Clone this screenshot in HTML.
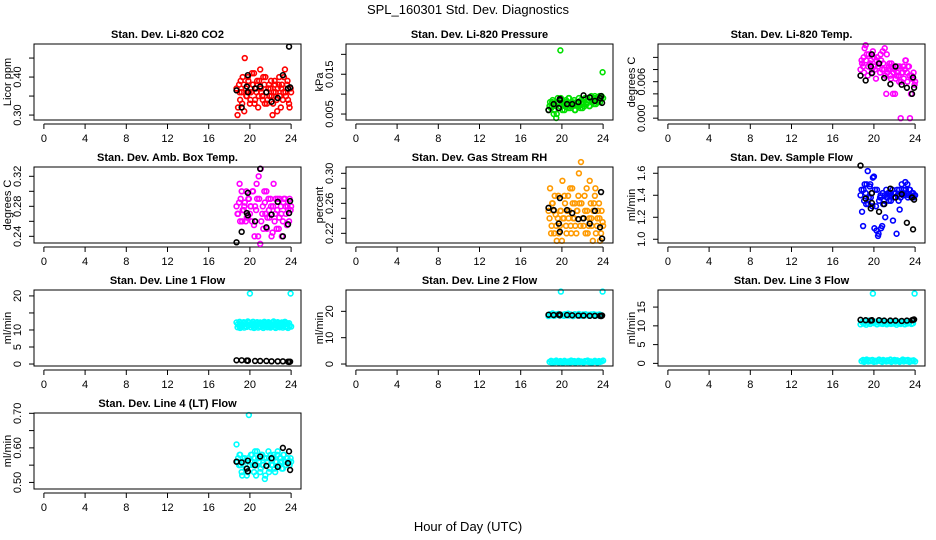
<!DOCTYPE html>
<html><head><meta charset="utf-8">
<style>
html,body{margin:0;padding:0;background:#fff;}
svg{display:block;font-family:"Liberation Sans",Arial,sans-serif;}
</style></head>
<body>
<svg id="chart" width="936" height="540" viewBox="0 0 936 540">
<text x="468" y="14" text-anchor="middle" font-size="13">SPL_160301  Std. Dev. Diagnostics</text>
<text x="468" y="531" text-anchor="middle" font-size="13">Hour of Day (UTC)</text>
</svg>
<script>
const hoursA=[18.7,18.85,19.0,19.1,19.25,19.4,19.5,19.65,19.8,19.9,20.05,20.2,20.3,20.45,20.6,20.7,20.85,21.0,21.1,21.25,21.4,21.5,21.65,21.8,21.9,22.05,22.2,22.3,22.45,22.6,22.7,22.85,23.0,23.1,23.25,23.4,23.5,23.65,23.8,23.95];
const hoursB=[18.8,18.95,19.05,19.2,19.3,19.45,19.6,19.7,19.85,20.0,20.1,20.25,20.4,20.5,20.65,20.8,20.9,21.05,21.2,21.3,21.45,21.6,21.7,21.85,22.0,22.1,22.25,22.4,22.5,22.65,22.8,22.9,23.05,23.2,23.3,23.45,23.6,23.7,23.85,24.0];
const hoursBlack=[18.7,19.2,19.7,19.8,20.5,21.0,21.6,22.1,22.7,23.2,23.7,23.8,23.9,19.8];
const xTicks=[0,4,8,12,16,20,24];

const co2A=[.37,.32,.36,.39,.33,.38,.45,.35,.40,.36,.34,.41,.38,.33,.37,.39,.35,.42,.36,.34,.38,.40,.33,.37,.35,.39,.30,.36,.38,.34,.37,.40,.32,.38,.36,.42,.35,.39,.33,.37];
const co2B=[.30,.38,.34,.36,.40,.31,.37,.35,.39,.33,.36,.38,.41,.34,.36,.32,.39,.37,.35,.40,.33,.36,.34,.38,.37,.35,.33,.39,.36,.31,.38,.35,.37,.34,.40,.36,.38,.34,.32,.36];
const co2K=[.365,.32,.375,.36,.37,.375,.36,.335,.345,.405,.37,.48,.373,.405];

const presA=[.006,.008,.007,.0085,.006,.007,.005,.008,.007,.009,.006,.0075,.008,.007,.0065,.009,.007,.008,.0075,.006,.008,.007,.009,.0065,.008,.0075,.007,.009,.008,.0085,.007,.0095,.008,.0075,.009,.0085,.008,.0095,.009,.0155];
const presB=[.007,.0065,.008,.005,.0075,.004,.009,.0065,.021,.0075,.008,.006,.0085,.0075,.009,.0065,.008,.007,.0085,.006,.0075,.008,.007,.0085,.0065,.008,.009,.0075,.0085,.007,.009,.008,.0085,.0095,.0075,.009,.0085,.008,.0095,.009];
const presK=[.006,.0075,.0065,.0085,.0075,.0075,.008,.0097,.0092,.0083,.009,.0095,.0078,.0088];

const tempA=[.008,.009,.010,.0115,.0095,.007,.0105,.009,.008,.011,.0085,.0065,.010,.009,.0075,.0095,.011,.008,.007,.0105,.008,.009,.0065,.0085,.0075,.004,.007,.0085,.006,0,.0075,.0085,.008,.0095,.006,.0085,0,.007,.0065,.0055];
const tempB=[.0095,.0085,.0075,.012,.0105,.0085,.009,.0095,.0075,.010,.008,.0095,.0085,.009,.0105,.008,.009,.0115,.004,.0075,.0085,.007,.009,.004,.008,.0065,.0075,.007,.0085,.006,.0075,.0065,.0095,.0075,.0085,.007,.004,.0065,.0075,.006];
const tempK=[.007,.0062,.0085,.0105,.009,.0066,.0056,.0085,.0055,.005,.004,.0067,.005,.0074];

const ambA=[.28,.27,.31,.29,.26,.275,.285,.30,.265,.29,.28,.26,.30,.24,.275,.29,.32,.23,.26,.28,.30,.27,.25,.29,.265,.28,.245,.31,.27,.25,.29,.265,.28,.24,.285,.29,.27,.28,.26,.275];
const ambB=[.27,.285,.26,.30,.275,.28,.26,.265,.29,.27,.28,.30,.255,.28,.31,.24,.29,.33,.27,.25,.285,.30,.265,.275,.29,.24,.28,.26,.29,.275,.25,.29,.27,.26,.29,.28,.255,.275,.29,.28];
const ambK=[.232,.246,.271,.268,.26,.33,.252,.269,.286,.24,.256,.271,.287,.298];

const rhA=[.25,.28,.23,.26,.22,.245,.21,.27,.23,.25,.29,.24,.26,.22,.27,.25,.23,.28,.24,.26,.22,.25,.30,.23,.26,.24,.27,.22,.25,.23,.29,.24,.21,.26,.28,.23,.25,.24,.22,.235];
const rhB=[.24,.22,.26,.25,.27,.23,.24,.22,.25,.21,.24,.27,.23,.25,.24,.28,.22,.26,.24,.23,.25,.27,.26,.315,.24,.23,.25,.28,.22,.24,.26,.23,.25,.27,.22,.24,.26,.21,.25,.23];
const rhK=[.254,.251,.233,.267,.251,.247,.239,.24,.233,.25,.228,.275,.213,.222];

const flowA=[1.40,1.25,1.45,1.50,1.32,1.62,1.38,1.50,1.42,1.56,1.10,1.30,1.45,1.05,1.38,1.10,1.42,1.35,1.20,1.38,1.42,1.40,1.35,1.45,1.38,1.42,1.05,1.40,1.45,1.38,1.50,1.42,1.40,1.45,1.50,1.40,1.45,1.38,1.42,1.40];
const flowB=[1.45,1.12,1.35,1.42,1.50,1.32,1.48,1.38,1.30,1.57,1.45,1.08,1.03,1.35,1.40,1.12,1.32,1.40,1.45,1.38,1.35,1.42,1.40,1.17,1.38,1.42,1.45,1.35,1.27,1.42,1.40,1.45,1.52,1.42,1.38,1.45,1.40,1.42,1.38,1.40];
const flowK=[1.67,1.37,1.28,1.42,1.25,1.32,1.46,1.38,1.41,1.15,1.38,1.09,1.36,1.33];

const l1A=[12.2,11.8,12.4,12.0,11.6,12.3,12.1,11.9,12.5,12.2,11.7,12.0,12.4,11.8,12.1,12.3,11.9,12.2,12.0,11.7,12.4,12.1,11.9,12.3,12.0,11.8,12.2,12.5,11.9,12.1,12.3,11.8,12.0,12.2,11.9,12.4,12.1,11.8,12.0,20.7];
const l1B=[10.8,11.2,10.6,11.0,11.4,10.7,11.1,10.9,11.3,20.7,10.8,11.2,10.6,11.0,11.3,10.7,11.1,10.9,11.2,10.6,11.0,11.4,10.8,11.1,10.7,11.0,11.3,10.9,10.6,11.2,11.0,10.8,11.1,10.7,11.3,10.9,11.0,10.6,11.2,11.0];
const l1K=[1.1,1.1,1.0,1.0,0.9,0.9,0.9,0.8,0.8,0.8,0.7,0.6,0.7,1.0];

const l2A=[18.2,18.9,18.5,19.2,18.3,18.8,18.6,19.0,18.4,27.5,18.7,18.3,18.9,18.5,19.1,18.4,18.8,18.6,18.2,18.9,18.5,18.7,19.0,18.3,18.6,18.8,18.4,18.9,18.5,18.7,18.3,18.8,18.6,18.9,18.4,18.7,18.5,18.8,18.6,27.5];
const l2B=[0.8,1.2,0.5,1.0,0.7,1.3,0.9,0.6,1.1,0.8,0.5,1.2,0.9,0.7,1.0,0.6,1.3,0.8,1.1,0.5,0.9,1.2,0.7,1.0,0.8,0.6,1.1,0.9,1.3,0.7,1.0,0.5,0.8,1.2,0.9,0.6,1.1,0.8,1.0,1.3];
const l2K=[18.7,18.6,18.7,18.5,18.6,18.5,18.4,18.4,18.3,18.3,18.3,18.2,18.4,18.8];

const l3A=[10.4,11.0,10.6,11.2,10.3,10.8,11.4,10.5,10.9,18.6,10.7,11.1,10.4,10.9,10.6,11.3,10.5,10.8,11.0,10.4,10.7,11.2,10.5,10.9,10.6,11.0,10.3,10.8,11.1,10.5,10.7,10.9,10.4,11.0,10.6,10.8,11.2,10.5,10.7,18.6];
const l3B=[0.6,0.9,0.4,0.7,1.0,0.5,0.8,0.6,0.9,0.4,0.7,0.5,0.8,1.0,0.6,0.4,0.9,0.7,0.5,0.8,0.6,1.0,0.4,0.7,0.9,0.5,0.8,0.6,0.4,0.7,1.0,0.5,0.8,0.6,0.9,0.4,0.7,0.6,0.8,0.5];
const l3K=[11.6,11.5,11.4,11.5,11.5,11.4,11.4,11.4,11.3,11.4,11.5,11.6,11.7,11.5];

const l4A=[.61,.57,.58,.55,.52,.56,.57,.54,.53,.695,.56,.58,.55,.57,.52,.59,.56,.53,.58,.55,.57,.52,.56,.59,.54,.57,.55,.58,.53,.56,.59,.55,.57,.54,.58,.56,.55,.57,.56,.57];
const l4B=[.56,.55,.58,.53,.57,.56,.54,.52,.57,.55,.58,.56,.53,.59,.55,.57,.56,.54,.58,.55,.51,.57,.56,.53,.58,.55,.57,.54,.56,.58,.55,.57,.56,.54,.58,.55,.57,.56,.55,.56];
const l4K=[.56,.558,.54,.563,.55,.575,.548,.57,.545,.60,.556,.59,.536,.532];

const panels=[
 {name:"co2",title:"Stan. Dev. Li-820 CO2",ylab:"Licor ppm",col:0,row:0,ymin:.287,ymax:.487,ticks:[.30,.35,.40,.45],labels:["0.30","","0.40",""],color:"#ff0000",a:co2A,b:co2B,k:co2K},
 {name:"pressure",title:"Stan. Dev. Li-820 Pressure",ylab:"kPa",col:1,row:0,ymin:.0035,ymax:.0226,ticks:[.005,.010,.015,.020],labels:["0.005","","0.015",""],color:"#00e000",a:presA,b:presB,k:presK},
 {name:"licor-temp",title:"Stan. Dev. Li-820 Temp.",ylab:"degrees C",col:2,row:0,ymin:-.0003,ymax:.0122,ticks:[0,.002,.004,.006,.008,.010],labels:["0.000","","","0.006","",""],color:"#ff00ff",a:tempA,b:tempB,k:tempK},
 {name:"amb-box-temp",title:"Stan. Dev. Amb. Box Temp.",ylab:"degrees C",col:0,row:1,ymin:.2311,ymax:.3324,ticks:[.24,.26,.28,.30,.32],labels:["0.24","","0.28","","0.32"],color:"#ff00ff",a:ambA,b:ambB,k:ambK},
 {name:"gas-stream-rh",title:"Stan. Dev. Gas Stream RH",ylab:"percent",col:1,row:1,ymin:.2071,ymax:.3084,ticks:[.22,.24,.26,.28,.30],labels:["0.22","","0.26","","0.30"],color:"#ff9a00",a:rhA,b:rhB,k:rhK},
 {name:"sample-flow",title:"Stan. Dev. Sample Flow",ylab:"ml/min",col:2,row:1,ymin:.966,ymax:1.657,ticks:[1.0,1.2,1.4,1.6],labels:["1.0","1.2","1.4","1.6"],color:"#0000ff",a:flowA,b:flowB,k:flowK},
 {name:"line1-flow",title:"Stan. Dev. Line 1 Flow",ylab:"ml/min",col:0,row:2,ymin:-.58,ymax:21.74,ticks:[0,5,10,15,20],labels:["0","5","10","","20"],color:"#00ffff",a:l1A,b:l1B,k:l1K},
 {name:"line2-flow",title:"Stan. Dev. Line 2 Flow",ylab:"ml/min",col:1,row:2,ymin:-.75,ymax:28.1,ticks:[0,10,20],labels:["0","10","20"],color:"#00ffff",a:l2A,b:l2B,k:l2K},
 {name:"line3-flow",title:"Stan. Dev. Line 3 Flow",ylab:"ml/min",col:2,row:2,ymin:-.7,ymax:19.55,ticks:[0,5,10,15],labels:["0","5","10","15"],color:"#00ffff",a:l3A,b:l3B,k:l3K},
 {name:"line4-flow",title:"Stan. Dev. Line 4 (LT) Flow",ylab:"ml/min",col:0,row:3,ymin:.481,ymax:.7009,ticks:[.50,.55,.60,.65,.70],labels:["0.50","","0.60","","0.70"],color:"#00ffff",a:l4A,b:l4B,k:l4K}
];
const colX=[34,346,658], rowY=[44,167,290,413], PW=267, PH=76;
const NS="http://www.w3.org/2000/svg";
const svg=document.getElementById('chart');
function mk(tag,attrs,parent){const e=document.createElementNS(NS,tag);for(const k in attrs)e.setAttribute(k,attrs[k]);parent.appendChild(e);return e;}
panels.forEach(p=>{
 const L=colX[p.col],T=rowY[p.row];
 const xs=v=>L+(v+0.96)/25.92*PW;
 const ys=v=>T+PH-(v-p.ymin)/(p.ymax-p.ymin)*PH;
 const g=mk('g',{},svg);
 
 
 const t=mk('text',{x:L+PW/2,y:T-6,'text-anchor':'middle','font-size':11,'font-weight':'bold'},g);
 t.textContent=p.title;
 
 
 const yl=mk('text',{x:0,y:0,'text-anchor':'middle','font-size':11,transform:`translate(${L-23},${T+PH/2}) rotate(-90)`},g);
 yl.textContent=p.ylab;
 
 
 xTicks.forEach(v=>{
  const x=xs(v);
  mk('line',{x1:x,x2:x,y1:T+PH+4,y2:T+PH+9,stroke:'#000','stroke-width':1},g);
  const tl=mk('text',{x:x,y:T+PH+22,'text-anchor':'middle','font-size':11},g);
  tl.textContent=String(v);
  
  
 });
 mk('line',{x1:xs(0),x2:xs(24),y1:T+PH+4,y2:T+PH+4,stroke:'#000','stroke-width':1},g);
 p.ticks.forEach((v,i)=>{
  const y=ys(v);
  mk('line',{x1:L-5,x2:L,y1:y,y2:y,stroke:'#000','stroke-width':1},g);
  if(p.labels[i]){
   const tl=mk('text',{x:0,y:0,'text-anchor':'middle','font-size':11,transform:`translate(${L-13},${y}) rotate(-90)`},g);
   tl.textContent=p.labels[i];
   
   
  }
 });
 function pts(hs,vals,color,nm){
  for(let i=0;i<Math.min(hs.length,vals.length);i++){
   const c=mk('circle',{cx:xs(hs[i]),cy:ys(vals[i]),r:2.4,fill:'none',stroke:color,'stroke-width':1.6},g);
   
   
  }
 }
 pts(hoursA,p.a,p.color,'point');
 pts(hoursB,p.b,p.color,'point');
 pts(hoursBlack,p.k,'#000','mean-point');
 const box=mk('rect',{x:L,y:T,width:PW,height:PH,fill:'none',stroke:'#000','stroke-width':1},g);
 
 
});
</script>
</body></html>
